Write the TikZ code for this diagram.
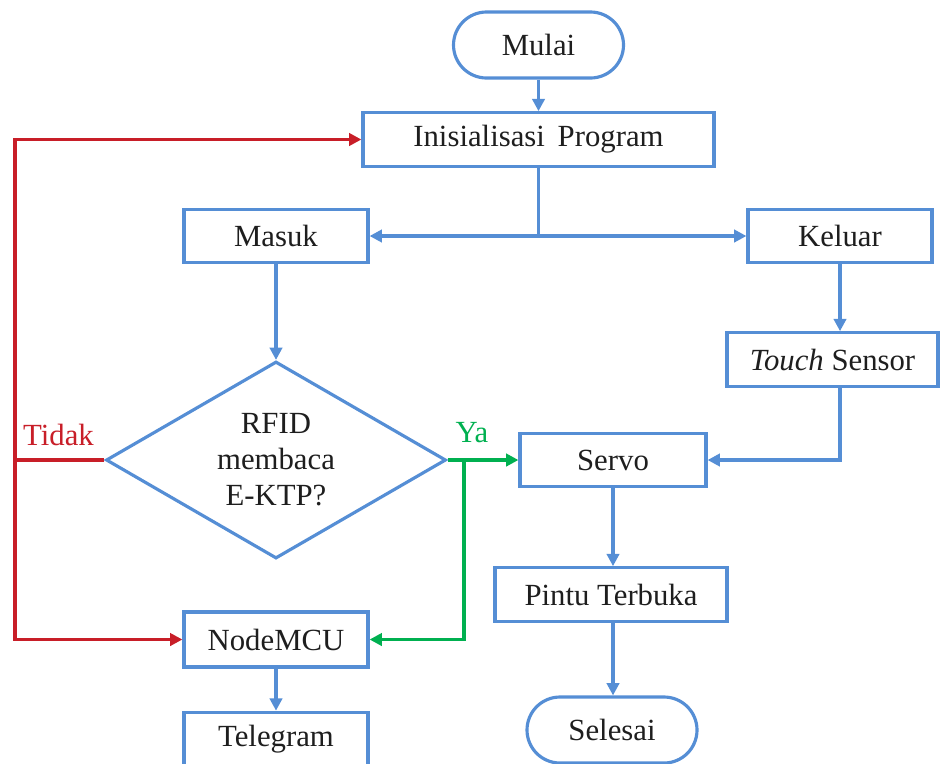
\documentclass[tikz,border=0pt]{standalone}
\usepackage{fontspec}
\setmainfont{Liberation Serif}
\usepackage{tikz}
\usetikzlibrary{arrows.meta, shapes.geometric, positioning}
\usepackage{xcolor}
\definecolor{flowblue}{RGB}{85,142,213}
\definecolor{flowred}{RGB}{200,30,40}
\definecolor{flowgreen}{RGB}{0,176,80}
\definecolor{flowtext}{RGB}{30,30,30}

\begin{document}
\begin{tikzpicture}[
            every node/.style={font=\fontsize{17.5}{20.5}\selectfont, text=flowtext, inner sep=0mm},
            proc/.style={draw=flowblue, line width=1.8pt, rectangle, minimum height=1.07cm},
            term/.style={draw=flowblue, line width=1.8pt, rectangle, rounded corners=0.66cm, minimum width=3.4cm, minimum height=1.32cm},
            decide/.style={draw=flowblue, line width=1.8pt, diamond, aspect=1.73, minimum width=6.8cm, minimum height=3.94cm, align=center},
            conn/.style={draw=#1, line width=2pt},
            conn/.default=flowblue,
            >={Triangle[length=7pt, width=7pt]}
        ]
            \useasboundingbox (0, 0) rectangle (18.8, -15.26);
            \node[term] (mulai) at (10.77, -0.9) {Mulai};
            \node[proc, minimum width=7.02cm] (init) at (10.77, -2.79) {Inisialisasi\, Program};
            \node[proc, minimum width=3.68cm] (masuk) at (5.52, -4.72) {Masuk};
            \node[proc, minimum width=3.68cm] (keluar) at (16.8, -4.72) {Keluar};
            \node[proc, minimum width=4.22cm] (touch) at (16.65, -7.19) {\textit{Touch} Sensor};
            \node[decide] (rfid) at (5.52, -9.2) {RFID\\membaca\\E-KTP?};
            \node[proc, minimum width=3.72cm] (servo) at (12.26, -9.2) {Servo};
            \node[proc, minimum width=4.64cm] (pintu) at (12.22, -11.89) {Pintu Terbuka};
            \node[term] (selesai) at (12.24, -14.6) {Selesai};
            \node[proc, minimum width=3.68cm, minimum height=1.1cm] (nodemcu) at (5.52, -12.79) {NodeMCU};
            \node[proc, minimum width=3.68cm] (telegram) at (5.52, -14.78) {Telegram};
            \node[text=flowred] (tidak) at (1.17, -8.7) {Tidak};
            \node[text=flowgreen] (ya) at (9.44, -8.66) {Ya};
            \coordinate (split) at (init.south |- masuk.east);
            \coordinate (tleft) at (0.3, -9.2);
            \coordinate (ysplit) at (9.28, -9.2);

            % blue flow
            \draw[conn, ->] (mulai) -- (init);
            \draw[conn] (init.south) -- (split);
            \draw[conn, ->] (split) -- (masuk.east);
            \draw[conn, ->] (split) -- (keluar.west);
            \draw[conn, ->] (keluar.south) -- (keluar.south |- touch.north);
            \draw[conn, ->] (keluar.south |- touch.south) |- (servo.east);
            \draw[conn, ->] (masuk) -- (rfid);
            \draw[conn, ->] (servo.south) -- (servo.south |- pintu.north);
            \draw[conn, ->] (servo.south |- pintu.south) -- (servo.south |- selesai.north);
            \draw[conn, ->] (nodemcu) -- (telegram);

            % tidak
            \draw[conn=flowred] (rfid.west) -- (tleft);
            \draw[conn=flowred, ->] (tleft) |- (init.west);
            \draw[conn=flowred, ->] (tleft) |- (nodemcu.west);

            % ya
            \draw[conn=flowgreen] (rfid.east) -- (ysplit);
            \draw[conn=flowgreen, ->] (ysplit) -- (servo.west);
            \draw[conn=flowgreen, ->] (ysplit) |- (nodemcu.east);
        \end{tikzpicture}
\end{document}
